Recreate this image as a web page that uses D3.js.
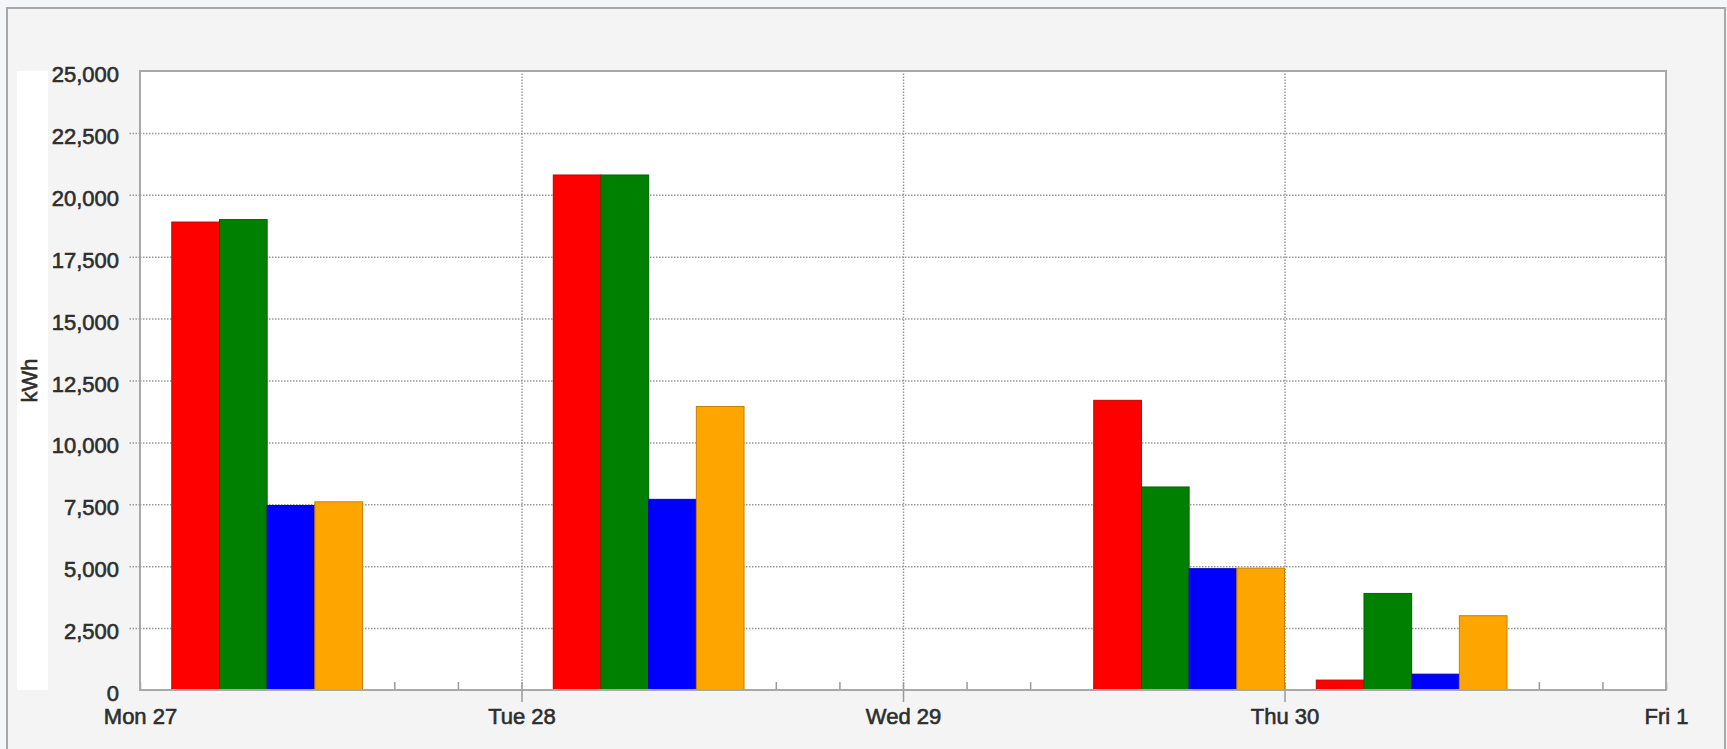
<!DOCTYPE html>
<html>
<head>
<meta charset="utf-8">
<script src="https://cdn.jsdelivr.net/npm/d3@7"></script>
<style>
  html, body { margin: 0; padding: 0; background: #f5f6fa; }
  svg { display: block; font-family: "Liberation Sans", Arial, sans-serif; }
</style>
</head>
<body>
<svg id="chart" width="1727" height="749"></svg>
<script>
// ---- data ----
const periodStarts = ["2015-04-27 02:00", "2015-04-28 02:00", "2015-04-29 12:00", "2015-04-30 02:00"];
const seriesNames = ["Series 1", "Series 2", "Series 3", "Series 4"];
const seriesColors = ["#ff0000", "#008000", "#0000ff", "#ffa500"];
const series1 = [18900, 20800, 11700, 400];
const series2 = [19000, 20800, 8200, 3900];
const series3 = [7450, 7700, 4900, 640];
const series4 = [7600, 11450, 4920, 3000];
const barHours = 3;
const xDomain = ["2015-04-27 00:00", "2015-05-01 00:00"];
const yTicks = [0, 2500, 5000, 7500, 10000, 12500, 15000, 17500, 20000, 22500, 25000];
const yLabel = "kWh";

// ---- layout ----
const W = 1727, H = 749;
const plot = { left: 140, right: 1666, top: 71, bottom: 690 };
const parse = d3.timeParse("%Y-%m-%d %H:%M");
const svg = d3.select("#chart");
const font = 22;
const textColor = "#2e2e2e";

const x = d3.scaleTime().domain(xDomain.map(parse)).range([plot.left, plot.right]);
const y = d3.scaleLinear().domain([0, 25000]).range([plot.bottom, plot.top]);

function styleText(sel) {
  sel.attr("font-size", font).attr("fill", textColor)
    .attr("stroke", textColor).attr("stroke-width", 0.6)
    .attr("font-family", "'Liberation Sans', Arial, sans-serif");
}

// outer frame
svg.append("rect").attr("x", 7).attr("y", 8).attr("width", 1718).attr("height", 760)
  .attr("fill", "#f4f4f4").attr("stroke", "#a8a8a8").attr("stroke-width", 2);

// white strip behind axis title
svg.append("rect").attr("x", 17).attr("y", plot.top).attr("width", 31).attr("height", plot.bottom - plot.top)
  .attr("fill", "#ffffff");

// plot background
svg.append("rect").attr("x", plot.left).attr("y", plot.top)
  .attr("width", plot.right - plot.left).attr("height", plot.bottom - plot.top)
  .attr("fill", "#ffffff");

// horizontal grid
const gridY = svg.append("g").attr("transform", `translate(${plot.left},0)`)
  .call(d3.axisLeft(y).tickValues(yTicks.filter(v => v > 0 && v < 25000)).tickSize(-(plot.right - plot.left)).tickFormat(""));
gridY.select(".domain").remove();
gridY.selectAll("line").attr("stroke", "#9a9a9a").attr("stroke-width", 1.5).attr("stroke-dasharray", "1.5,1.5");

// vertical grid at day boundaries
const dayTicks = d3.timeDay.range(x.domain()[0], d3.timeDay.offset(x.domain()[1], 1));
const gridX = svg.append("g").attr("transform", `translate(0,${plot.bottom})`)
  .call(d3.axisBottom(x).tickValues(dayTicks.filter(d => +d > +x.domain()[0] && +d < +x.domain()[1]))
    .tickSize(-(plot.bottom - plot.top)).tickFormat(""));
gridX.select(".domain").remove();
gridX.selectAll("line").attr("stroke", "#9a9a9a").attr("stroke-width", 1.5).attr("stroke-dasharray", "1.5,1.5");

// minor ticks (every 4 hours, inside plot)
const minor = svg.append("g").attr("transform", `translate(0,${plot.bottom})`)
  .call(d3.axisBottom(x).ticks(d3.timeHour.every(4)).tickSize(-8).tickFormat(""));
minor.select(".domain").remove();
minor.selectAll("line").attr("stroke", "#9a9a9a").attr("stroke-width", 1.5);

// bars
const allSeries = [series1, series2, series3, series4];
const bars = [];
periodStarts.forEach((p, i) => {
  const start = parse(p);
  allSeries.forEach((s, k) => {
    bars.push({
      t0: d3.timeHour.offset(start, barHours * k),
      t1: d3.timeHour.offset(start, barHours * (k + 1)),
      value: s[i], color: seriesColors[k], name: seriesNames[k]
    });
  });
});
svg.append("g").selectAll("rect").data(bars).join("rect")
  .attr("x", d => x(d.t0))
  .attr("width", d => x(d.t1) - x(d.t0))
  .attr("y", d => y(d.value))
  .attr("height", d => y(0) - y(d.value))
  .attr("fill", d => d.color)
  .attr("stroke", d => d3.color(d.color).darker(0.7))
  .attr("stroke-width", 1);

// plot border
svg.append("rect").attr("x", plot.left).attr("y", plot.top)
  .attr("width", plot.right - plot.left).attr("height", plot.bottom - plot.top)
  .attr("fill", "none").attr("stroke", "#a8a8a8").attr("stroke-width", 2);

// y axis labels with dotted outside ticks
const yAxis = svg.append("g").attr("transform", `translate(${plot.left},0)`)
  .call(d3.axisLeft(y).tickValues(yTicks).tickSize(12).tickPadding(9).tickFormat(d3.format(",")));
yAxis.select(".domain").remove();
yAxis.selectAll("line").attr("stroke", "#9a9a9a").attr("stroke-width", 1.5).attr("stroke-dasharray", "1.5,1.5")
  .filter(d => d === 0 || d === 25000).remove();
yAxis.selectAll("text").call(styleText).attr("dy", "0.48em");

// x axis labels
const xAxis = svg.append("g").attr("transform", `translate(0,${plot.bottom})`)
  .call(d3.axisBottom(x).tickValues(dayTicks).tickSize(12).tickPadding(6).tickFormat(d3.timeFormat("%a %-d")));
xAxis.select(".domain").remove();
xAxis.selectAll("line").attr("stroke", "#9a9a9a").attr("stroke-width", 1.5)
  .filter(d => +d === +x.domain()[0] || +d === +x.domain()[1]).remove();
xAxis.selectAll("text").call(styleText);

// y axis title
svg.append("text")
  .attr("transform", `translate(37,${(plot.top + plot.bottom) / 2}) rotate(-90)`)
  .attr("text-anchor", "middle")
  .call(styleText)
  .text(yLabel);
</script>
</body>
</html>
